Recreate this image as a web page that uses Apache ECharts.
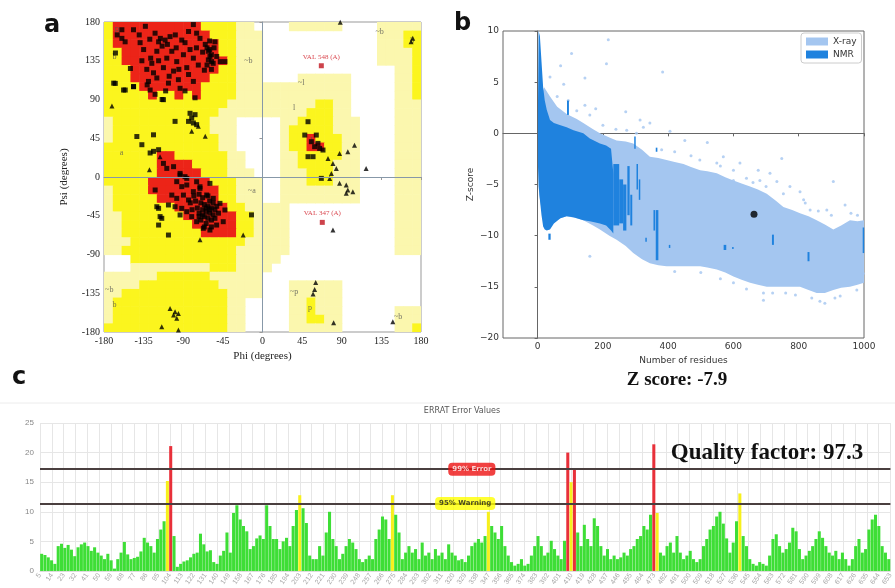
<!DOCTYPE html>
<html><head><meta charset="utf-8">
<script src="https://cdn.jsdelivr.net/npm/echarts@6/dist/echarts.min.js"></script>
<style>html,body{margin:0;padding:0;background:#fff}#c{width:895px;height:588px}</style>
</head><body><div id="c"></div>
<script>
// ---------- Panel a : Ramachandran plot ----------
const ramaTicks = [-180, -135, -90, -45, 0, 45, 90, 135, 180];
// 10-degree cells, rows psi 180 -> -180, cols phi -180 -> 180 ; 0 white,1 generous,2 allowed,3 core (run-length "code*count")
const ramaRows = [
 "2 3*10 2*4 1*2 0*4 1*6 0*4 1*5",
 "2 3*11 2*3 1*3 0*13 1*3 2*2",
 "2 3*12 2*2 1*3 0*13 1*3 2*2",
 "2*2 3*11 2*2 1*3 0*13 1*4 2",
 "2*2 3*12 2 1*3 0*13 1*4 2",
 "2*3 3*10 2*2 1*3 0*15 1*2 2",
 "2*3 3*9 2*3 1*3 0*4 1*6 0*5 1*2 2",
 "2*4 3*7 2*4 1*13 0*5 1*2 2",
 "2*5 3 2*2 3 2 3 2*4 1*13 0*5 1*2 2",
 "2*14 1*10 2*2 1*2 0*5 1*3",
 "2*13 1*10 2*3 1*2 0*5 1*3",
 "1 2*11 1*3 0*5 1*2 2*4 1*3 0*4 1*3",
 "1 2*11 1*3 0*5 1 2*5 1*3 0*4 1*3",
 "1 2*12 1*2 0*5 1 2*2 3 2*3 1*2 0*4 1*3",
 "2*13 1*2 0*5 1 2*2 3*2 2*2 1*2 0*4 1*3",
 "2*6 3*2 2*6 1*2 0*4 1*2 2*5 1*2 0*4 1*3",
 "2*6 3*4 2*4 1*2 0*4 1*2 2*4 1*3 0*4 1*3",
 "2*6 3*5 2*3 1*3 0*3 1*3 2*3 1*3 0*4 1*3",
 "2*5 3*7 2*3 1*3 0*2 1*3 2*3 1*3 0*4 1*3",
 "1 2*4 3*8 2*2 1*3 0*2 1*9 0*4 1*3",
 "1 2*5 3*7 2*2 1*3 0*2 1*9 0*4 1*3",
 "1 2*7 3*6 2*2 1*5 0*12 1*3",
 "1*2 2*7 3*6 2*2 1*4 0*12 1*3",
 "1*2 2*8 3*5 2*2 1*4 0*12 1*3",
 "1*2 2*9 3*4 2*2 1*4 0*12 1*3",
 "1*3 2*13 1*5 0*12 1*3",
 "1*2 2*13 1*6 0*12 1*3",
 "0*3 2*12 1*5 0*16",
 "0*3 1*9 2*3 1*4 0*17",
 "1*6 2*6 1*6 0*18",
 "1*4 2*9 1*5 0*3 1*6 0*9",
 "1*2 2*12 1*4 0*3 1*6 0*9",
 "1 2*13 1*2 0*5 1*2 2 1*3 0*9",
 "1 2*13 1*2 0*5 1*2 2 1*3 0*6 1*3",
 "1 2*13 1*2 0*5 1*2 2*2 1*2 0*6 1*3",
 "2*14 1*2 0*5 1*6 0*6 1*2 2"
];
const ramaResidues = [
 [-159.7,171],[-146.5,171],[-133,175],[-122,167],[-116,161],[-110.6,159],[-105,163],[-99,165],[-91.7,159],[-84,169],[-78.5,177],[-74.8,167],[-71,161],[-65,154],[-61.5,146],[-59.7,140],[-57.8,134],[-54,157],[-139,156],[-135,148],[-127,138],[-125.7,132],[-120,146],[-114,152],[-108.7,138],[-103,146],[-97.4,134],[-89.8,142],[-82.3,148],[-78.5,138],[-72.9,130],[-129.5,111],[-131,107],[-127.6,101],[-122,96],[-114,90],[-106.8,109],[-95.5,113],[-93.6,103],[-78.5,111],[-76.6,92],[-84,119],[-86,127],[-101,123],[-112.5,127],[-123.8,121],[-131.4,125],[-159.7,161],[-156,157],[-167,144],[-169,109],[-157.8,101],[-146.5,105],[-63,150],[-60,148],[-58,142],[-61.5,136],[-56,132],[-63,130],[-48,134],[-42.7,134],
 [-140,165],[-128,160],[-118,157],[-108,154],[-98,150],[-88,156],[-75,150],[-68,145],[-60,158],[-55,150],[-52,140],[-58,125],[-66,124],[-95,125],[-118,135],[-137,135],[-150,126],[-165,165],[-120,115],[-106,117],[-88,100],[-110,100],
 [-82.3,74],[-80.4,68.5],[-78.5,62.7],[-76.6,72.4],[-84,64.6],[-74.8,60.8],[-99.3,64.6],[-142.7,47],[-137,37.5],[-123.8,49],[-127.6,27.9],[-123.8,29.8],[-118,31.7],[-112.5,89.8],[-167.2,108.7],[-155.9,101],[-146.4,104.9],
 [-121.9,-15.1],[-120,-34.5],[-118,-36.4],[-116.3,-46],[-114.4,-48],[-118,-55.8],[-106.8,-67.4],[-12.5,-44],[-97.4,-5.4],[-91.7,-11.2],[-86,-9.3],[-103,-21],[-97.4,-24.8],[-89.8,-21],[-84,-26.7],[-78.5,-17],[-106.8,-32.5],[-99.3,-34.5],[-91.7,-36.4],[-86,-40.3],[-93.6,-44.1],[-80.4,-46],[-74.8,-51.9],[-67.2,-59.6],[-59.7,-61.6],[-52.1,-55.8],[-44.6,-51.9],[-42.7,-38.3],[-48.3,-30.6],[-55.9,-24.8],[-63.4,-20.9],[-71,-13.2],[-88,0.4],[-93.6,2.3],[-112.5,15.8],[-108.7,10],[-101,12],[-93.6,4.2],[-86,-1.6],[-71,-11.3],[-74.8,-5.5],[-59.7,-7.4],
 [-70,-30],[-66,-32],[-62,-34],[-58,-36],[-54,-38],[-68,-38],[-64,-40],[-60,-42],[-56,-44],[-72,-42],[-66,-46],[-62,-48],[-58,-50],[-70,-50],[-64,-54],[-60,-28],[-56,-30],[-52,-34],[-50,-42],[-74,-36],[-76,-28],[-68,-24],[-62,-22],[-58,-58],[-66,-58],[-60,-38],[-64,-36],[-68,-44],[-54,-48],[-72,-46],[-80,-38],[-82,-30],[-78,-22],[-72,-20],
 [51.7,64.2],[48,48.7],[61.1,48.7],[55.5,41],[59.2,35.2],[64.9,33.2],[63,39],[68.7,31.3],[57.4,23.6],[51.7,23.6],[66.8,-1.6]
];
const ramaGlycines = [
 [-171,82.4],[-72.9,58.8],[-80.4,53],[-65,47.2],[-128.4,8.5],[-116.3,23.6],[-71,-73],[-21.9,-67.4],
 [74.4,21.6],[87.5,27.4],[96.9,29.4],[104.5,37],[80,15.8],[83.8,10],[78.2,4.2],[76.3,-1.6],[87.5,-7.4],[95.1,-9.3],[96.9,-15.2],[102.6,-17.1],[95.1,-19],[117.7,10],[80,-61.6],[88.3,179.6],[168.7,157],[170.6,161],
 [60.4,-122.4],[59.2,-130.5],[57.4,-136],[80.8,-169.2],[148,-168],[-105,-152.6],[-99.3,-156.4],[-97.4,-164],[-101,-160.3],[-95.5,-158.4],[-114.4,-173.9],[-95.5,-177.7]
];
const ramaOutliers = [[66.8,129.2,'VAL 548 (A)'],[67.9,-52.7,'VAL 347 (A)']];
const ramaRegionLabels = [
 [-165,170,'B'],[-168,140,'b'],[-16,135,'~b'],[-160,28,'a'],[-12,-16,'~a'],[57,42,'L'],[36,80,'l'],[44,109,'~l'],
 [-174,-131,'~b'],[-168,-149,'b'],[36,-133,'~p'],[54,-152,'p'],[154,-162,'~b'],[133,169,'~b'],[170,158,'b']
];

// ---------- Panel b : Z-score ----------
const zTicks = [0, 200, 400, 600, 800, 1000];
const xrayRes   = [5,20,38,60,89,120,140,170,191,220,242,270,293,320,344,370,395,420,447,470,498,520,549,575,600,625,651,675,702,730,753,780,804,830,855,880,906,930,957,980,1000];
const xrayUpper = [3,4.5,3.6,2.6,1.9,1.4,1.0,0.4,0,-0.4,-0.7,-0.8,-1.0,-1.6,-2.3,-2.4,-2.6,-2.8,-3.0,-3.3,-3.6,-3.7,-3.9,-4.3,-4.6,-4.9,-5.2,-5.5,-5.9,-6.6,-7.2,-7.5,-7.8,-8.1,-8.5,-8.9,-9.4,-9.0,-8.5,-8.6,-8.5];
const xrayLower = [-6,-9.0,-8.8,-8.4,-8.1,-8.3,-8.5,-9.0,-9.4,-10.0,-10.4,-11.0,-11.7,-12.3,-12.7,-12.9,-13.0,-13.0,-13.0,-13.0,-13.0,-13.1,-13.3,-13.6,-14.0,-14.3,-14.6,-14.8,-15.0,-15.0,-15.0,-15.0,-15.0,-15.3,-15.6,-15.6,-15.3,-15.1,-15.0,-14.8,-14.6];
const nmrRes   = [1,3,7,12,17,22,28,38,50,70,89,110,140,160,191,210,225,232];
const nmrUpper = [2,10,9.5,7,4.5,3.2,2.3,1.3,1.0,0.8,0.6,0.3,0,-0.5,-1.0,-1.2,-1.5,-3.9];
const nmrLower = [-3,-5.2,-6.5,-8,-9.1,-9.4,-9.5,-9.4,-8.8,-8.3,-8.1,-8.2,-8.5,-8.6,-8.8,-9.0,-9.5,-9.8];
// [resStart, resEnd, zTop, zBottom]
const nmrStreaks = [[232,250,-3,-9.0],[250,262,-4.5,-8.8],[262,272,-5,-9.5],[275,282,-3.2,-8.0],[284,290,-6,-9.0],[296,300,-0.3,-1.5],[303,307,-3,-5.5],[310,314,-4.5,-6.5],[355,360,-7.5,-9.5],[362,370,-7.5,-12.4],[330,334,-10.2,-10.6],[402,406,-10.9,-11.2],[570,578,-10.9,-11.4],[596,600,-11.1,-11.3],[718,724,-9.9,-10.9],[827,833,-11.6,-12.5],[996,1000,-9.2,-11.7],[33,40,-9.8,-10.4],[90,96,3.2,1.8],[362,367,-1.4,-1.8]];
const xrayPoints = [[216.6,9.15],[104,7.8],[211,6.8],[383,6],[145,5.4],[70.5,6.6],[38,5.5],[94,3.2],[145,2.75],[178,2.4],[270,2.1],[344,1],[405.6,0.2],[451,-0.7],[520,-0.9],[569,-2.3],[620,-2.9],[676,-3.6],[748,-2.45],[804,-5.7],[906,-4.7],[942,-7],[886,-7.5],[835,-7.5],[324,0.6],[314,1.3],[303,0],[273,0.3],[497,-2.6],[549,-2.9],[600,-4.6],[681,-4.6],[712,-3.9],[733,-4.7],[773,-5.2],[753,-5.9],[815,-6.5],[160,-12],[692,-15.6],[692,-16.3],[840,-16.1],[865,-16.4],[911,-16.1],[927,-15.9],[978,-15.3],[998,-13.7],
 [560,-14.2],[640,-15.2],[760,-15.6],[790,-15.8],[880,-16.6],[720,-15.6],[600,-14.6],[500,-13.6],[420,-13.5],[640,-4.4],[700,-5.2],[600,-3.6],[560,-3.2],[660,-4.8],[860,-7.6],[900,-8.0],[960,-7.8],[980,-8.0],[820,-6.8],[420,-1.8],[470,-2.2],[380,-1.6],[240,0.4],[200,0.8],[160,1.8],[120,2.2],[60,3.6],[80,4.8]];
const modelPoint = [[663,-7.9]];

// ---------- Panel c : ERRAT ----------
const errYTicks = [0,5,10,15,20,25];
const errLimits = [17.2, 11.4];
const errValues = [
 2.9,2.7,2.3,1.8,1.2,4.2,4.6,3.9,4.4,3.6, 2.5,4.0,4.5,4.8,4.2,3.4,4.0,3.1,2.6,2.0,
 2.9,1.8,0.4,2.0,3.1,4.9,2.8,2.0,2.2,2.4, 3.3,5.6,4.8,4.2,3.1,5.4,7.0,8.4,"15.2y","21.1r",
 5.9,0.7,1.2,1.6,1.8,2.3,2.9,3.1,6.3,4.5, 3.3,3.5,1.5,1.2,2.6,3.4,6.5,3.1,9.8,11.1, 8.7,7.6,
 6.7,3.7,4.2,5.5,6.0,5.4,11.1,7.6,5.4,5.4, 3.7,5.0,5.6,4.2,7.6,10.3,"12.8y",10.6,8.1,2.6,
 2.0,2.0,4.2,2.6,6.5,10.0,5.4,4.2,2.0,2.9, 4.2,5.4,4.8,3.7,2.0,1.5,2.0,2.6,2.0,5.4,
 7.0,9.2,8.7,5.4,"12.8y",9.5,6.5,2.0,3.1,4.2, 3.1,3.7,2.0,4.8,2.6,3.1,2.0,3.7,2.6,3.1, 2.0,4.5,3.1,2.6,1.8,
 2.0,1.5,2.6,4.2,4.8,5.4,4.8,5.9,"10.0y",7.6, 6.5,5.4,7.6,4.2,2.6,1.5,0.9,1.2,2.0,0.9,
 1.2,2.6,4.2,5.9,4.2,2.6,3.1,5.1,3.7,2.6, 2.0,5.1,"20.0r","15.0y","17.2r",6.5,4.2,7.8,5.4,4.2,
 8.9,7.6,4.2,2.6,3.7,2.0,2.6,2.0,2.3,3.1, 2.6,3.7,4.2,5.4,5.9,7.6,7.0,9.5,"21.4r","9.8y", 3.1,2.6,4.2,4.8,3.1,
 5.9,3.1,2.0,2.6,3.4,2.0,1.5,2.0,4.2,5.4, 7.0,7.6,9.2,10.0,8.0,5.5,3.1,4.8,8.4,"13.1y",
 5.9,4.2,2.0,1.2,0.9,1.5,1.2,0.9,2.6,5.4, 6.2,4.2,3.1,3.7,4.8,7.3,6.7,3.7,2.0,2.6,
 3.4,4.2,5.4,6.7,5.6,4.2,3.1,2.6,3.4,2.0, 3.1,2.0,0.9,2.0,4.2,5.4,3.1,3.7,7.0,8.7, 9.5,7.6,4.2,3.1,2.0
];
const errTickLabels = ["5","14","23","32","41","50","59","68","77","86","95","104","113","122","131","140","149","158","167","176","185","194","203","212","221","230","239","248","257","266","275","284","293","302","311","320","329","338","347","356","365","374","383","392","401","410","419","428","437","446","455","464","473","482","491","500","509","518","527","536","545","554","563","572","581","590","599","608","617","626","635","644","653"];

// ---------- build ----------
const cellColors = {1:'#fbf7ae', 2:'#fbf51e', 3:'#ec2418'};
const cells = [];
ramaRows.forEach((s, r) => {
  let c = 0;
  s.split(' ').forEach(tok => {
    const [v, n] = tok.split('*');
    const cnt = n ? +n : 1;
    for (let i = 0; i < cnt; i++) { if (+v > 0) cells.push([-180 + 10 * c, 180 - 10 * r, +v]); c++; }
  });
});
const barColors = {g:'#3ede36', y:'#f7f01c', r:'#e8303a'};
const errBars = errValues.map(x => {
  const f = typeof x === 'string' ? x.slice(-1) : 'g';
  return {value: parseFloat(x), itemStyle: {color: barColors[f]}};
});
const errCats = errValues.map((_, i) => String(i));
const xrayPoly = xrayRes.map((r, i) => [r, xrayUpper[i]]).concat(xrayRes.map((r, i) => [r, xrayLower[i]]).reverse());
const nmrPoly = nmrRes.map((r, i) => [r, nmrUpper[i]]).concat(nmrRes.map((r, i) => [r, nmrLower[i]]).reverse());
const XRAY = '#a4c6f0', NMR = '#1f82de';
const serif = 'Liberation Serif';
const sans = 'DejaVu Sans';

function polyItem(pts, color) {
  return function (params, api) {
    return {type: 'polygon', shape: {points: pts.map(p => api.coord(p))}, style: {fill: color}};
  };
}

const chart = echarts.init(document.getElementById('c'), null, {renderer: 'canvas'});
chart.setOption({
  animation: false,
  backgroundColor: '#fff',
  grid: [
    {left: 104, top: 22, width: 317, height: 310, show: true, borderColor: '#999', borderWidth: 1, backgroundColor: '#fff'},
    {left: 503, top: 31, width: 361, height: 307, show: true, borderColor: '#666', borderWidth: 1},
    {left: 40, top: 423, width: 855, height: 151}
  ],
  legend: {
    data: [{name: 'X-ray', icon: 'rect'}, {name: 'NMR', icon: 'rect'}],
    orient: 'vertical', left: 801, top: 33, itemWidth: 22, itemHeight: 8, itemGap: 4,
    padding: [4, 5], borderColor: '#ccc', borderWidth: 1, borderRadius: 3, backgroundColor: '#fff',
    textStyle: {fontFamily: sans, fontSize: 9, color: '#333'}, selectedMode: false
  },
  xAxis: [
    {gridIndex: 0, type: 'value', min: -180, max: 180, interval: 45, name: 'Phi (degrees)', nameLocation: 'middle', nameGap: 15,
     nameTextStyle: {fontFamily: serif, fontSize: 11, color: '#222'},
     axisLine: {lineStyle: {color: '#999'}}, axisTick: {length: 3, lineStyle: {color: '#999'}},
     axisLabel: {fontFamily: serif, fontSize: 10, color: '#222', margin: 4}, splitLine: {show: false}},
    {gridIndex: 1, type: 'value', min: -106, max: 1000, name: 'Number of residues', nameLocation: 'middle', nameGap: 15,
     nameTextStyle: {fontFamily: sans, fontSize: 9, color: '#333'},
     axisLine: {lineStyle: {color: '#666'}}, axisTick: {length: 3, customValues: zTicks, lineStyle: {color: '#666'}},
     axisLabel: {fontFamily: sans, fontSize: 9, color: '#333', margin: 4, customValues: zTicks, formatter: v => String(v)},
     splitLine: {show: false}},
    {gridIndex: 2, type: 'category', data: errCats, show: false, position: 'bottom'},
    {gridIndex: 2, type: 'category', data: errTickLabels, boundaryGap: false, position: 'bottom', offset: 0,
     axisLine: {lineStyle: {color: '#ddd'}}, axisTick: {show: false},
     axisLabel: {interval: 0, rotate: 55, fontSize: 7, color: '#aaa', margin: 3},
     splitLine: {show: true, lineStyle: {color: '#e6e6e6'}}}
  ],
  yAxis: [
    {gridIndex: 0, type: 'value', min: -180, max: 180, interval: 45, name: 'Psi (degrees)', nameLocation: 'middle', nameGap: 34,
     nameTextStyle: {fontFamily: serif, fontSize: 11, color: '#222'},
     axisLine: {lineStyle: {color: '#999'}}, axisTick: {length: 3, lineStyle: {color: '#999'}},
     axisLabel: {fontFamily: serif, fontSize: 10, color: '#222', margin: 4}, splitLine: {show: false}},
    {gridIndex: 1, type: 'value', min: -20, max: 10, interval: 5, name: 'Z-score', nameLocation: 'middle', nameGap: 28,
     nameTextStyle: {fontFamily: sans, fontSize: 9, color: '#333'},
     axisLine: {lineStyle: {color: '#666'}}, axisTick: {length: 3, lineStyle: {color: '#666'}},
     axisLabel: {fontFamily: sans, fontSize: 9, color: '#333', margin: 4, formatter: v => String(v).replace('-', '\u2212')},
     splitLine: {show: false}},
    {gridIndex: 2, type: 'value', min: 0, max: 25, interval: 5,
     axisLine: {show: false}, axisTick: {show: false},
     axisLabel: {fontSize: 8, color: '#888', margin: 6}, splitLine: {lineStyle: {color: '#e6e6e6'}}}
  ],
  series: [
    {type: 'custom', name: 'cells', xAxisIndex: 0, yAxisIndex: 0, data: cells, clip: true, z: 1, silent: true, progressive: 0,
     renderItem: (params, api) => {
       const p0 = api.coord([api.value(0), api.value(1)]);
       const p1 = api.coord([api.value(0) + 10, api.value(1) - 10]);
       return {type: 'rect', shape: {x: p0[0], y: p0[1], width: p1[0] - p0[0] + 0.6, height: p1[1] - p0[1] + 0.6},
               style: {fill: cellColors[api.value(2)]}};
     },
     markLine: {silent: true, symbol: 'none', label: {show: false}, lineStyle: {color: '#8798a8', width: 1, type: 'solid'},
       data: [{xAxis: 0}, {yAxis: 0}]}},
    {type: 'scatter', name: 'labels', xAxisIndex: 0, yAxisIndex: 0, data: ramaRegionLabels, symbolSize: 0, z: 3, silent: true,
     label: {show: true, position: 'inside', formatter: p => p.data[2], fontFamily: serif, fontSize: 8, color: '#555'}},
    {type: 'scatter', name: 'res', xAxisIndex: 0, yAxisIndex: 0, data: ramaResidues, symbol: 'rect', symbolSize: 5, z: 4,
     itemStyle: {color: '#000'}},
    {type: 'scatter', name: 'gly', xAxisIndex: 0, yAxisIndex: 0, data: ramaGlycines, symbol: 'triangle', symbolSize: 5, z: 4,
     itemStyle: {color: '#000'}},
    {type: 'scatter', name: 'out', xAxisIndex: 0, yAxisIndex: 0, data: ramaOutliers, symbol: 'rect', symbolSize: 5, z: 5,
     itemStyle: {color: '#c0141e'},
     label: {show: true, position: 'top', distance: 3, formatter: p => p.data[2], fontFamily: serif, fontSize: 7, color: '#d0141e'}},

    {type: 'custom', name: 'X-ray', xAxisIndex: 1, yAxisIndex: 1, data: [[0, 0]], z: 2, itemStyle: {color: XRAY},
     renderItem: polyItem(xrayPoly, XRAY)},
    {type: 'scatter', name: 'X-ray', xAxisIndex: 1, yAxisIndex: 1, data: xrayPoints, symbolSize: 3, z: 2, itemStyle: {color: XRAY}},
    {type: 'custom', name: 'NMR', xAxisIndex: 1, yAxisIndex: 1, data: [[0, 0]], z: 3, itemStyle: {color: NMR},
     renderItem: polyItem(nmrPoly, NMR)},
    {type: 'custom', name: 'NMR', xAxisIndex: 1, yAxisIndex: 1, data: nmrStreaks, z: 3, itemStyle: {color: NMR},
     renderItem: (params, api) => {
       const p0 = api.coord([api.value(0), api.value(2)]);
       const p1 = api.coord([api.value(1), api.value(3)]);
       return {type: 'rect', shape: {x: p0[0], y: p0[1], width: Math.max(p1[0] - p0[0], 1.5), height: Math.max(p1[1] - p0[1], 1.5)},
               style: {fill: NMR}};
     }},
    {type: 'scatter', name: 'model', xAxisIndex: 1, yAxisIndex: 1, data: modelPoint, symbolSize: 7, z: 6, itemStyle: {color: '#000'}},

    {type: 'bar', name: 'errat', xAxisIndex: 2, yAxisIndex: 2, data: errBars, barCategoryGap: '8%', z: 3,
     markLine: {silent: true, symbol: 'none', label: {show: false}, lineStyle: {color: '#4a3f3f', width: 2, type: 'solid'},
       data: errLimits.map(v => ({yAxis: v}))}},
    {type: 'scatter', name: 'limitLabels', xAxisIndex: 2, yAxisIndex: 2, symbolSize: 0, z: 6, silent: true,
     data: [{value: [130, errLimits[0]], label: {formatter: '99% Error', backgroundColor: '#ee1111', color: '#fff'}},
            {value: [128, errLimits[1]], label: {formatter: '95% Warning', backgroundColor: '#ffff00', color: '#222'}}],
     label: {show: true, position: 'inside', fontSize: 7, fontWeight: 'bold', fontFamily: sans, padding: [3, 4], borderRadius: 4}}
  ],
  graphic: [
    {type: 'text', left: 44, top: 14, style: {text: 'a', font: 'bold 24px "DejaVu Sans"', fill: '#111'}},
    {type: 'text', left: 454, top: 12, style: {text: 'b', font: 'bold 24px "DejaVu Sans"', fill: '#111'}},
    {type: 'text', left: 12, top: 366, style: {text: 'c', font: 'bold 24px "DejaVu Sans"', fill: '#111'}},
    {type: 'text', x: 677, y: 380, style: {text: 'Z score: -7.9', font: 'bold 19px "Liberation Serif"', fill: '#111', align: 'center', verticalAlign: 'middle'}},
    {type: 'text', x: 767, y: 453, z: 10, style: {text: 'Quality factor: 97.3', font: 'bold 23px "Liberation Serif"', fill: '#111', align: 'center', verticalAlign: 'middle'}},
    {type: 'text', x: 462, y: 411, style: {text: 'ERRAT Error Values', font: '8px "DejaVu Sans"', fill: '#555', align: 'center', verticalAlign: 'middle'}},
    {type: 'line', shape: {x1: 0, y1: 403, x2: 895, y2: 403}, style: {stroke: '#ececec', lineWidth: 1}}
  ]
});
</script></body></html>
